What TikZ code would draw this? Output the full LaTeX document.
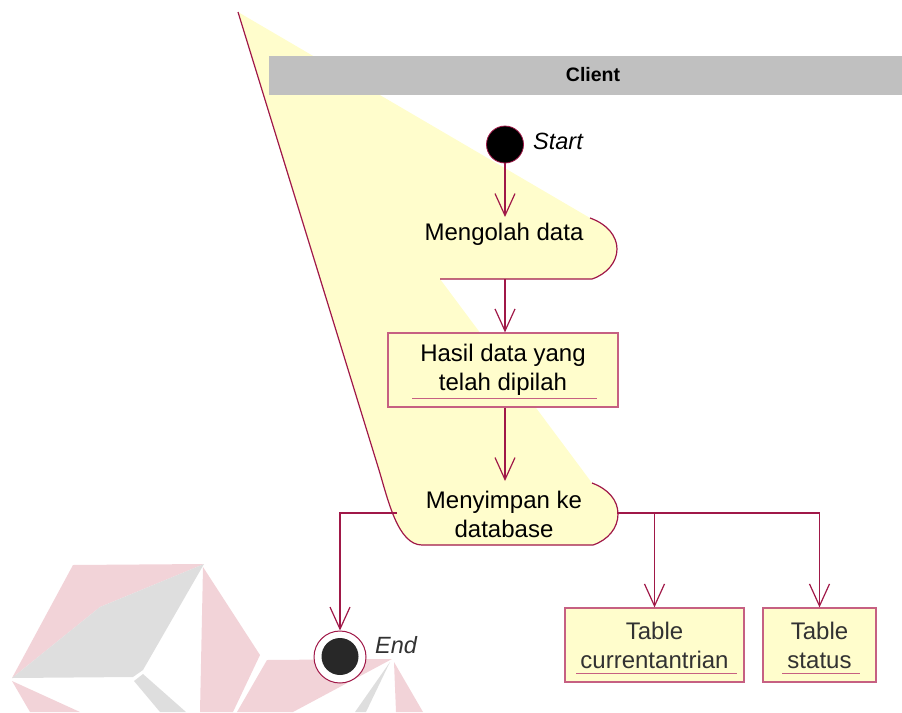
\documentclass[tikz,border=0pt]{standalone}
\usepackage{fontspec}
\setmainfont{Liberation Sans}
\usetikzlibrary{arrows.meta,calc}

\definecolor{rosebrd}{RGB}{160,24,72}
\definecolor{boxbrd}{RGB}{198,96,130}
\definecolor{actfill}{RGB}{255,253,204}
\definecolor{hdrgray}{RGB}{192,192,192}
\definecolor{wmpink}{RGB}{242,211,216}
\definecolor{wmgray}{RGB}{222,222,222}
\definecolor{softtext}{RGB}{50,50,50}

\begin{document}
\begin{tikzpicture}[x=1pt,y=-1pt,
  txt/.style={font=\fontsize{24}{29}\selectfont, align=center, inner sep=0pt},
  flow/.style={draw=rosebrd, line width=1.3pt,
    -{Straight Barb[length=22pt,width=20pt,line width=1.2pt]}},
  edge/.style={draw=rosebrd, line width=1.2pt},
  objbox/.style={draw=boxbrd, line width=1.2pt, fill=actfill, inner sep=0pt,
    font=\fontsize{24}{29}\selectfont, align=center},
  uline/.style={draw=boxbrd, line width=1.2pt},
  wmp/.style={fill=wmpink},
  wmg/.style={fill=wmgray}]

\useasboundingbox (0,0) rectangle (902,712);

% faint logo in the lower left corner
\fill[wmp] (73,565) -- (204,564) -- (100,607) -- (12,678) -- cycle;
\fill[wmg] (204,564) -- (100,607) -- (12,678) -- (133,677) -- (143,670) -- cycle;
\fill[wmg] (134,681) -- (143,674) -- (186,712) -- (160,712) -- cycle;
\fill[wmp] (203,567) -- (260,655) -- (233,712) -- (200,712) -- cycle;
\fill[wmp] (12,681) -- (80,712) -- (30,712) -- cycle;
\fill[wmp] (267,660) -- (392,659) -- (293,712) -- (237,712) -- cycle;
\fill[wmg] (390,662) -- (355,712) -- (366,712) -- cycle;
\fill[wmp] (394,662) -- (423,712) -- (396,712) -- cycle;

% stretched activity shapes, filled as one outline
\fill[actfill]
  (238,12) -- (590,218)
  .. controls (607,224) and (617,236) .. (617,249)
  .. controls (617,262) and (607,274) .. (592,279)
  -- (440,279) -- (592,483)
  .. controls (608,489) and (618,500) .. (618,514)
  .. controls (618,528) and (608,540) .. (593,545)
  -- (422,545)
  .. controls (398,545) and (388,500) .. (379,470) -- cycle;

% borders of the activity shapes
\draw[edge] (590,218)
  .. controls (607,224) and (617,236) .. (617,249)
  .. controls (617,262) and (607,274) .. (592,279) -- (440,279);
\draw[edge] (592,483)
  .. controls (608,489) and (618,500) .. (618,514)
  .. controls (618,528) and (608,540) .. (593,545)
  -- (422,545)
  .. controls (398,545) and (388,500) .. (379,470) -- (238,12);

% swimlane header
\node[fill=hdrgray, minimum width=633pt, minimum height=39pt, inner sep=0pt,
  anchor=north west] (hdr) at (269,56) {};
\node[font=\bfseries\fontsize{19.5}{21}\selectfont, inner sep=0pt] (client) at (593,75) {Client};

% initial state
\node[circle, fill=black, draw=rosebrd, line width=0.8pt, minimum size=37pt,
  inner sep=0pt] (start) at (505,144.5) {};
\node[font=\itshape\fontsize{23.5}{27}\selectfont, anchor=west, inner sep=0pt] (startlbl) at (533,141) {Start};

% activities
\node[txt] (mengolah) at (504,234) {Mengolah data};
\coordinate (mgTop) at (505,217);
\coordinate (mgBot) at (505,279);

\node[objbox, minimum width=230pt, minimum height=74pt] (hasil) at (503,370)
  {Hasil data yang\\telah dipilah};
\draw[uline] ($(hasil.south west)+(25,-9)$) -- ($(hasil.south east)+(-22,-9)$);

\node[txt] (menyimpan) at (504,514) {Menyimpan ke\\database};
\coordinate (mzTop) at (505,481);
\coordinate (mzL) at (397,513);
\coordinate (mzR) at (617,513);

% final state
\node[circle, fill=white, draw=rosebrd, line width=1pt, minimum size=52pt,
  inner sep=0pt] (endc) at (340,657) {};
\node[circle, fill=softtext!80!black, minimum size=37pt, inner sep=0pt] (endin) at (340,656.5) {};
\node[font=\itshape\fontsize{23.5}{27}\selectfont, anchor=west, inner sep=0pt,
  text=softtext] (endlbl) at (375,645) {End};

% data tables
\node[objbox, text=softtext, minimum width=179pt, minimum height=74pt] (t1) at (654.5,645)
  {Table\\currentantrian};
\draw[uline] ($(t1.south west)+(12,-9)$) -- ($(t1.south east)+(-8,-9)$);
\node[objbox, text=softtext, minimum width=113pt, minimum height=74pt] (t2) at (819.5,645)
  {Table\\status};
\draw[uline] ($(t2.south west)+(20,-9)$) -- ($(t2.south east)+(-17,-9)$);

% transitions
\draw[flow] (start) -- (mgTop);
\draw[flow] (mgBot) -- (mgBot |- hasil.north);
\draw[flow] (hasil.south -| mgBot) -- (mzTop);
\draw[flow] (mzL) -| (endc.north);
\draw[flow] (mzR) -| (t1.north);
\draw[flow] (mzR) -| (t2.north);

\end{tikzpicture}
\end{document}
